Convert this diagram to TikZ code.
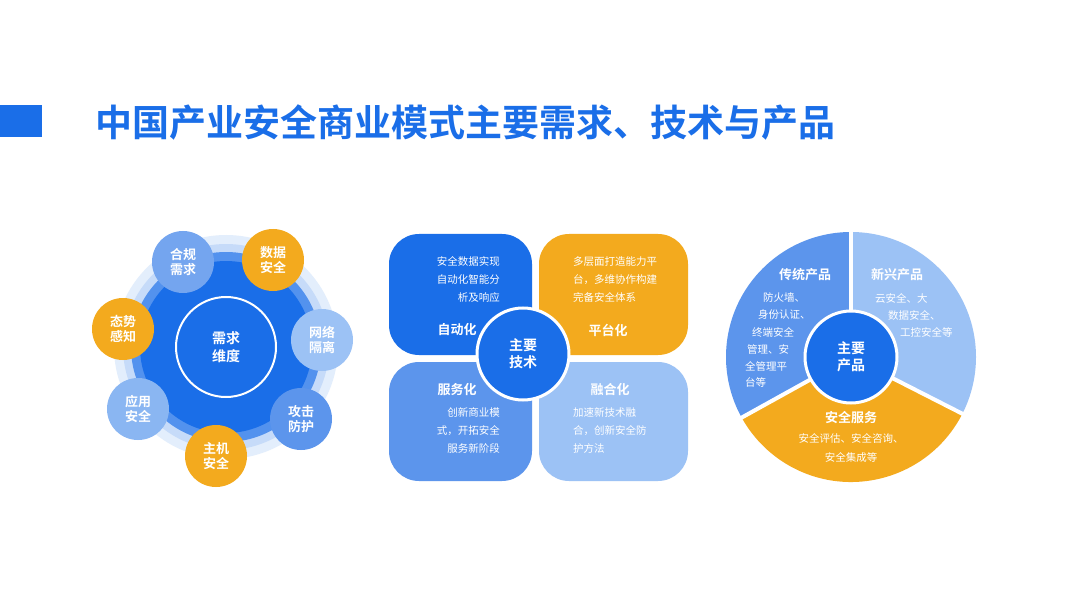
\documentclass[tikz,border=0pt]{standalone}
\usepackage{fontspec}
\setmainfont{Noto Sans CJK SC}
\newfontfamily\cjkb{Noto Sans CJK SC Bold}
\definecolor{tblue}{HTML}{1A6EE8}
\definecolor{mblue}{HTML}{5C95EC}
\definecolor{lblue}{HTML}{8AB6F2}
\definecolor{pblue}{HTML}{9CC2F5}
\definecolor{orng}{HTML}{F3AA1E}
\begin{document}
\begin{tikzpicture}[x=1pt,y=-1pt,
 sat/.style={circle,minimum size=62pt,inner sep=0,text=white,font=\cjkb\fontsize{13}{15}\selectfont,align=center},
 hub/.style={circle,fill=tblue,draw=white,line width=3pt,minimum size=92pt,inner sep=0,text=white,font=\cjkb\fontsize{14}{17}\selectfont,align=center},
 ttl/.style={text=white,font=\cjkb\fontsize{13}{15}\selectfont},
 sm/.style={text=white,font=\fontsize{10.5}{18}\selectfont,inner sep=0}]
\useasboundingbox (0,0) rectangle (1080,607);
\fill[white] (0,0) rectangle (1080,607);
% title
\fill[tblue] (0,105) rectangle (42,137);
\node[anchor=west,text=tblue,font=\cjkb\fontsize{37}{40}\selectfont,inner sep=0] (title) at (95,122) {中国产业安全商业模式主要需求、技术与产品};
% left
\fill[tblue!12] (226,347) circle (112);
\fill[tblue!25] (226,347) circle (103);
\fill[tblue!75] (226,347) circle (95);
\fill[tblue] (226,347) circle (86);
\node[circle,draw=white,line width=2pt,minimum size=100pt,text=white,font=\cjkb\fontsize{14}{18}\selectfont,align=center] (need) at (226,347) {需求\\维度};
\node[sat,fill=mblue!85] (a1) at (183,262) {合规\\需求};
\node[sat,fill=orng] (a2) at (273,260) {数据\\安全};
\node[sat,fill=pblue] (a3) at (322,340) {网络\\隔离};
\node[sat,fill=mblue] (a4) at (301,419) {攻击\\防护};
\node[sat,fill=orng] (a5) at (216,456) {主机\\安全};
\node[sat,fill=lblue] (a6) at (138,409) {应用\\安全};
\node[sat,fill=orng] (a7) at (123,329) {态势\\感知};
% middle
\fill[tblue,rounded corners=30pt] (389,234) rectangle (532,355);
\fill[orng,rounded corners=30pt] (539,234) rectangle (688,355);
\fill[mblue,rounded corners=30pt] (389,362) rectangle (532,481);
\fill[pblue,rounded corners=30pt] (539,362) rectangle (688,481);
\node[sm,align=right,anchor=north east] (t1) at (500,256) {安全数据实现\\自动化智能分\\析及响应};
\node[ttl] (h1) at (457,330) {自动化};
\node[sm,align=left,anchor=north west] (t2) at (573,256) {多层面打造能力平\\台，多维协作构建\\完备安全体系};
\node[ttl] (h2) at (608,330) {平台化};
\node[ttl] (h3) at (457,390) {服务化};
\node[sm,align=right,anchor=north east] (t3) at (500,407) {创新商业模\\式，开拓安全\\服务新阶段};
\node[ttl] (h4) at (610,390) {融合化};
\node[sm,align=left,anchor=north west] (t4) at (573,407) {加速新技术融\\合，创新安全防\\护方法};
\node[hub] (tech) at (523,354) {主要\\技术};
% right pie
\fill[mblue] (851,357) -- (851,232) arc[start angle=-90,end angle=-209,radius=125] -- cycle;
\fill[pblue] (851,357) -- (851,232) arc[start angle=-90,end angle=27,radius=125] -- cycle;
\fill[orng] (851,357) -- ++(27:125) arc[start angle=27,end angle=151,radius=125] -- cycle;
\draw[white,line width=4pt] (851,357) -- (851,230);
\draw[white,line width=4pt] (851,357) -- ++(27:128);
\draw[white,line width=4pt] (851,357) -- ++(151:128);
\node[ttl] (p1) at (805,275) {传统产品};
\node[sm,anchor=west] (l1) at (763,298) {防火墙、};
\node[sm,anchor=west] (l2) at (758,315) {身份认证、};
\node[sm,anchor=west] (l3) at (752,332) {终端安全};
\node[sm,anchor=west] (l4) at (747,349) {管理、安};
\node[sm,anchor=west] (l5) at (745,366) {全管理平};
\node[sm,anchor=west] (l6) at (745,382) {台等};
\node[ttl] (p2) at (897,275) {新兴产品};
\node[sm,anchor=west] (r1) at (875,298) {云安全、大};
\node[sm,anchor=west] (r2) at (888,315) {数据安全、};
\node[sm,anchor=west] (r3) at (900,332) {工控安全等};
\node[ttl] (p3) at (851,418) {安全服务};
\node[sm] (b1) at (851,439) {安全评估、安全咨询、};
\node[sm] (b2) at (851,457) {安全集成等};
\node[hub] (prod) at (851,357) {主要\\产品};
\end{tikzpicture}
\end{document}
